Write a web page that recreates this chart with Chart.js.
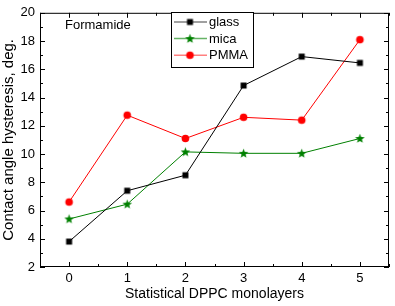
<!DOCTYPE html>
<html><head><meta charset="utf-8">
<script src="https://cdn.jsdelivr.net/npm/chart.js@4"></script>
<style>html,body{margin:0;padding:0;background:#fff}#wrap{width:395px;height:306px}</style>
</head><body><div id="wrap"><canvas id="c" width="395" height="306"></canvas></div>
<script>
const categories = [0, 1, 2, 3, 4, 5];
const glass = [3.8, 7.4, 8.5, 14.85, 16.9, 16.45];
const mica = [5.4, 6.45, 10.15, 10.05, 10.05, 11.1];
const pmma = [6.6, 12.75, 11.1, 12.6, 12.4, 18.1];
const seriesLabels = ['glass', 'mica', 'PMMA'];
const yTicks = [2, 4, 6, 8, 10, 12, 14, 16, 18, 20];
const FONT = 'Liberation Sans, Arial, sans-serif';

function markerCanvas(kind, color) {
  const c = document.createElement('canvas');
  c.width = 11; c.height = 11;
  const g = c.getContext('2d');
  g.fillStyle = color;
  if (kind === 'square') { g.fillRect(2.5, 2.5, 6, 6); }
  else if (kind === 'circle') { g.beginPath(); g.arc(5.5, 5.5, 3.8, 0, Math.PI * 2); g.fill(); }
  else {
    g.beginPath();
    for (let i = 0; i < 10; i++) {
      const r = i % 2 === 0 ? 5 : 2.1;
      const a = -Math.PI / 2 + i * Math.PI / 5;
      const x = 5.5 + r * Math.cos(a), y = 5.8 + r * Math.sin(a);
      i === 0 ? g.moveTo(x, y) : g.lineTo(x, y);
    }
    g.closePath(); g.fill();
  }
  return c;
}
const colors = ['#000000', '#008000', '#ff0000'];
const legendLineColors = ['#808080', '#66b366', '#ff8080'];
const markers = [markerCanvas('square', colors[0]), markerCanvas('star', colors[1]), markerCanvas('circle', colors[2])];

const frameTicks = {
  id: 'frameTicks',
  afterDraw(chart) {
    const ctx = chart.ctx, a = chart.chartArea;
    const xs = chart.scales.x, ys = chart.scales.y;
    ctx.save();
    ctx.strokeStyle = '#000'; ctx.lineWidth = 1;
    ctx.strokeRect(a.left + 0.5, a.top + 0.5, a.right - a.left - 1, a.bottom - a.top - 1);
    ctx.beginPath();
    for (let v = -0.5; v <= 5.5; v += 0.5) {
      const x = Math.round(xs.getPixelForValue(v)) + 0.5;
      const L = Number.isInteger(v) ? 5 : 3;
      ctx.moveTo(x, a.bottom); ctx.lineTo(x, a.bottom - L);
      ctx.moveTo(x, a.top); ctx.lineTo(x, a.top + L);
    }
    for (let v = 2; v <= 20; v += 1) {
      const y = Math.round(ys.getPixelForValue(v)) + 0.5;
      const L = v % 2 === 0 ? 5 : 3;
      ctx.moveTo(a.left, y); ctx.lineTo(a.left + L, y);
      ctx.moveTo(a.right, y); ctx.lineTo(a.right - L, y);
    }
    ctx.stroke();
    // annotation
    ctx.fillStyle = '#000';
    ctx.font = '13px ' + FONT;
    ctx.textBaseline = 'middle'; ctx.textAlign = 'left';
    ctx.fillText('Formamide', 65, 25);
    // legend
    const bx = 171, by = 12, bw = 82, bh = 55;
    ctx.fillStyle = '#fff';
    ctx.fillRect(bx, by, bw, bh);
    ctx.strokeStyle = '#000';
    ctx.strokeRect(bx + 0.5, by + 0.5, bw, bh);
    chart.data.datasets.forEach((ds, i) => {
      const yy = 22 + i * 16.6;
      ctx.strokeStyle = legendLineColors[i]; ctx.lineWidth = 1.5;
      ctx.beginPath(); ctx.moveTo(174, yy); ctx.lineTo(207, yy); ctx.stroke();
      ctx.drawImage(markers[i], 190 - 5.5, yy - 5.5);
      ctx.fillStyle = '#000';
      ctx.font = '13px ' + FONT;
      ctx.fillText(ds.label, 209, yy + 0.5);
    });
    ctx.restore();
  }
};

new Chart(document.getElementById('c'), {
  type: 'line',
  data: {
    datasets: [glass, mica, pmma].map((arr, i) => ({
      label: seriesLabels[i],
      data: arr.map((v, j) => ({ x: categories[j], y: v })),
      borderColor: colors[i],
      backgroundColor: colors[i],
      borderWidth: 1,
      pointStyle: markers[i],
      pointRadius: 5,
      tension: 0
    }))
  },
  options: {
    responsive: false,
    animation: false,
    devicePixelRatio: 1,
    layout: { padding: { top: 5, right: 1, left: 0, bottom: 0 } },
    plugins: { legend: { display: false }, tooltip: { enabled: false } },
    scales: {
      x: {
        type: 'linear', min: -0.5, max: 5.5,
        afterBuildTicks(s) { s.ticks = categories.map(v => ({ value: v })); },
        afterFit(s) { s.height = 39; },
        grid: { display: false, drawTicks: false },
        border: { display: false },
        ticks: { padding: 4, color: '#000', font: { family: FONT, size: 13 } },
        title: { display: true, text: 'Statistical DPPC monolayers', color: '#000', font: { family: FONT, size: 14 }, padding: { top: 2, bottom: 3 } }
      },
      y: {
        min: 2, max: 20,
        afterBuildTicks(s) { s.ticks = yTicks.map(v => ({ value: v })); },
        afterFit(s) { s.width = 40; },
        grid: { display: false, drawTicks: false },
        border: { display: false },
        ticks: { padding: 5, color: '#000', font: { family: FONT, size: 13 } },
        title: { display: true, text: 'Contact angle hysteresis, deg.', color: '#000', font: { family: FONT, size: 15 }, padding: { top: 0, bottom: 1 } }
      }
    }
  },
  plugins: [frameTicks]
});
</script>
</body></html>
